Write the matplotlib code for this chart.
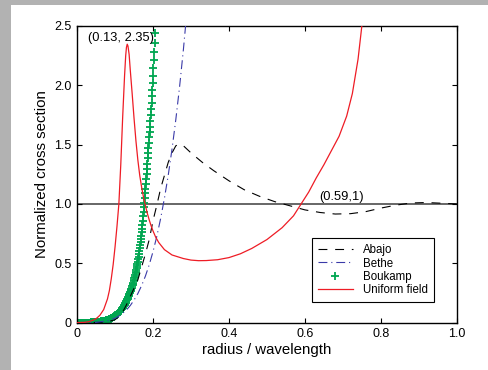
import numpy as np
import matplotlib
matplotlib.use("Agg")
import matplotlib.pyplot as plt
from matplotlib.patches import Rectangle

plt.rcParams['font.family'] = ['Liberation Sans', 'DejaVu Sans']

# --- data ---
# Abajo (dashed)
abajo_x = [0.000, 0.060, 0.080, 0.100, 0.110, 0.120, 0.130, 0.140, 0.150, 0.160,
           0.170, 0.180, 0.190, 0.200, 0.210, 0.220, 0.230, 0.240, 0.250, 0.260,
           0.270, 0.280, 0.300, 0.330, 0.360, 0.400, 0.440, 0.480, 0.520, 0.560,
           0.600, 0.640, 0.680, 0.720, 0.760, 0.800, 0.840, 0.880, 0.920, 0.960,
           1.000]
abajo_y = [0.000, 0.002, 0.006, 0.025, 0.050, 0.090, 0.150, 0.220, 0.290, 0.360,
           0.470, 0.580, 0.700, 0.860, 0.990, 1.130, 1.240, 1.350, 1.430, 1.490,
           1.505, 1.490, 1.430, 1.350, 1.280, 1.195, 1.120, 1.065, 1.020, 0.985,
           0.950, 0.928, 0.915, 0.918, 0.935, 0.965, 0.990, 1.008, 1.012, 1.006,
           1.000]

# Bethe (dash-dot)
bethe_x = [0.00, 0.05, 0.08, 0.10, 0.11, 0.12, 0.13, 0.14, 0.15, 0.16, 0.17,
           0.18, 0.19, 0.20, 0.21, 0.22, 0.23, 0.24, 0.25, 0.26, 0.27, 0.28, 0.29]
bethe_y = [0.000, 0.002, 0.015, 0.037, 0.055, 0.078, 0.107, 0.144, 0.190, 0.245,
           0.313, 0.393, 0.488, 0.599, 0.728, 0.877, 1.048, 1.241, 1.462, 1.711,
           1.990, 2.302, 2.650]

# Boukamp (markers, one every 0.001)
boukamp_x = np.linspace(0.0, 0.205, 206)
boukamp_y = [
    0.000, 0.000, 0.000, 0.000, 0.000, 0.000, 0.000, 0.000, 0.000, 0.000,
    0.000, 0.000, 0.000, 0.000, 0.000, 0.000, 0.000, 0.000, 0.000, 0.000,
    0.000, 0.001, 0.001, 0.001, 0.001, 0.001, 0.001, 0.001, 0.001, 0.001,
    0.001, 0.001, 0.001, 0.001, 0.001, 0.001, 0.002, 0.002, 0.002, 0.002,
    0.002, 0.002, 0.002, 0.002, 0.002, 0.002, 0.003, 0.003, 0.003, 0.003,
    0.004, 0.004, 0.005, 0.005, 0.005, 0.006, 0.006, 0.007, 0.007, 0.008,
    0.008, 0.009, 0.009, 0.010, 0.010, 0.011, 0.012, 0.012, 0.013, 0.014,
    0.015, 0.016, 0.016, 0.017, 0.018, 0.019, 0.020, 0.021, 0.022, 0.023,
    0.024, 0.025, 0.026, 0.027, 0.029, 0.030, 0.031, 0.033, 0.034, 0.036,
    0.038, 0.039, 0.041, 0.043, 0.045, 0.047, 0.049, 0.051, 0.053, 0.056,
    0.058, 0.061, 0.063, 0.066, 0.068, 0.071, 0.074, 0.077, 0.080, 0.083,
    0.086, 0.089, 0.093, 0.096, 0.100, 0.104, 0.108, 0.112, 0.116, 0.120,
    0.125, 0.130, 0.135, 0.140, 0.145, 0.151, 0.157, 0.162, 0.168, 0.175,
    0.181, 0.188, 0.195, 0.202, 0.209, 0.216, 0.224, 0.232, 0.240, 0.248,
    0.257, 0.266, 0.275, 0.285, 0.295, 0.305, 0.316, 0.327, 0.338, 0.350,
    0.362, 0.375, 0.388, 0.401, 0.415, 0.430, 0.445, 0.461, 0.478, 0.496,
    0.515, 0.535, 0.556, 0.578, 0.601, 0.625, 0.650, 0.676, 0.703, 0.731,
    0.760, 0.792, 0.825, 0.860, 0.897, 0.935, 0.973, 1.012, 1.051, 1.090,
    1.130, 1.170, 1.211, 1.253, 1.296, 1.340, 1.383, 1.427, 1.471, 1.515,
    1.560, 1.605, 1.651, 1.698, 1.748, 1.800, 1.853, 1.907, 1.962, 2.020,
    2.080, 2.145, 2.210, 2.280, 2.355, 2.440]

# Uniform field (solid red)
uniform_x = [0.000, 0.020, 0.030, 0.040, 0.050, 0.060, 0.070, 0.080, 0.085, 0.090,
             0.095, 0.100, 0.105, 0.110, 0.115, 0.120, 0.125, 0.128, 0.130, 0.132,
             0.134, 0.137, 0.140, 0.145, 0.150, 0.155, 0.160, 0.165, 0.170, 0.175,
             0.180, 0.185, 0.190, 0.195, 0.200, 0.207, 0.215, 0.230, 0.250, 0.280,
             0.300, 0.320, 0.340, 0.370, 0.400, 0.430, 0.460, 0.500, 0.540, 0.570,
             0.590, 0.610, 0.630, 0.650, 0.670, 0.690, 0.710, 0.725, 0.740, 0.750,
             0.755]
uniform_y = [0.000, 0.003, 0.008, 0.018, 0.033, 0.062, 0.110, 0.200, 0.270, 0.370,
             0.490, 0.640, 0.810, 1.000, 1.330, 1.730, 2.080, 2.250, 2.320, 2.346,
             2.330, 2.260, 2.130, 1.930, 1.720, 1.530, 1.370, 1.240, 1.140, 1.055,
             0.985, 0.920, 0.865, 0.815, 0.772, 0.720, 0.675, 0.615, 0.570, 0.540,
             0.527, 0.522, 0.523, 0.530, 0.548, 0.580, 0.625, 0.700, 0.800, 0.900,
             1.000, 1.100, 1.220, 1.330, 1.450, 1.570, 1.740, 1.930, 2.220, 2.500,
             2.700]

x_ticks = [0, 0.2, 0.4, 0.6, 0.8, 1.0]
x_tick_labels = ['0', '0.2', '0.4', '0.6', '0.8', '1.0']
y_ticks = [0, 0.5, 1.0, 1.5, 2.0, 2.5]
y_tick_labels = ['0', '0.5', '1.0', '1.5', '2.0', '2.5']

# --- figure ---
fig = plt.figure(figsize=(4.88, 3.70), dpi=100, facecolor='#b2b2b2')
# white page area, gray border on the left and top
fig.patches.append(Rectangle((11 / 488, 0), 1, 1 - 5 / 370, transform=fig.transFigure,
                             facecolor='white', edgecolor='none', zorder=-10))

ax = fig.add_axes([0.158, 0.128, 0.778, 0.802])
ax.set_facecolor('white')

ax.axhline(1.0, color='#666666', lw=1.4, zorder=1)

ax.plot(abajo_x, abajo_y, color='black', lw=0.8, dashes=(8, 7), label='Abajo', zorder=3)
ax.plot(bethe_x, bethe_y, color='#3a3aa8', lw=0.8, dashes=(8, 3.5, 1, 3.5),
        label='Bethe', zorder=3)
ax.plot(boukamp_x, boukamp_y, ls='none', marker='+', ms=5.2, mew=1.3,
        color='#00a651', label='Boukamp', zorder=2)
ax.plot(uniform_x, uniform_y, color='#ee1c25', lw=0.9, label='Uniform field', zorder=4)

ax.text(0.029, 2.40, '(0.13, 2.35)', fontsize=9.3, ha='left', va='center')
ax.text(0.639, 1.06, '(0.59,1)', fontsize=9.3, ha='left', va='center')

ax.set_xlim(0, 1.0)
ax.set_ylim(0, 2.5)
ax.set_xticks(x_ticks)
ax.set_xticklabels(x_tick_labels)
ax.set_yticks(y_ticks)
ax.set_yticklabels(y_tick_labels)
ax.tick_params(direction='in', top=True, right=True, length=3.5, width=0.8,
               labelsize=9, pad=4)
for s in ax.spines.values():
    s.set_linewidth(1.0)

ax.set_xlabel('radius / wavelength', fontsize=10.8, labelpad=2)
ax.set_ylabel('Normalized cross section', fontsize=10.8, labelpad=4)

leg = ax.legend(loc='lower right', bbox_to_anchor=(0.941, 0.069), borderaxespad=0,
                fontsize=8.3, numpoints=1, handlelength=3.0, handletextpad=0.9,
                labelspacing=0.1, borderpad=0.55, fancybox=False, framealpha=1)
leg.get_frame().set_edgecolor('black')
leg.get_frame().set_linewidth(0.8)

fig.savefig('out.png', dpi=100, facecolor=fig.get_facecolor())
